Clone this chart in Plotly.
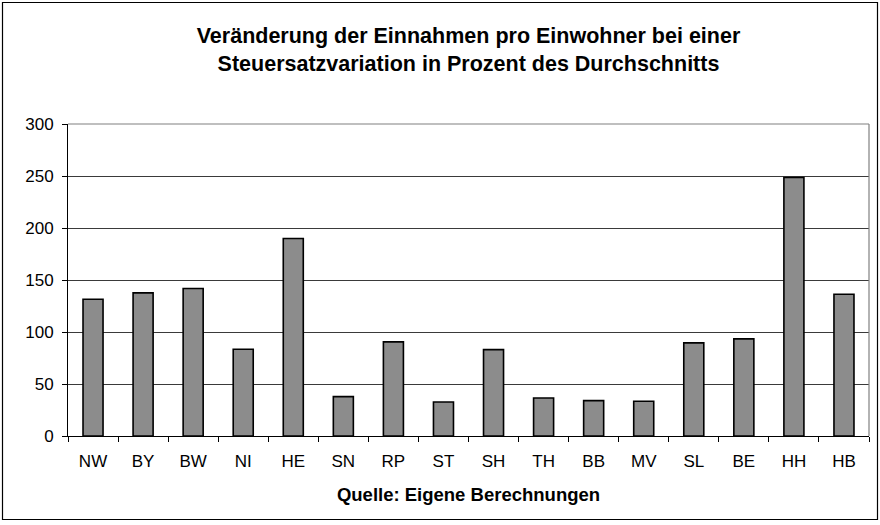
import plotly.graph_objects as go

categories = ["NW", "BY", "BW", "NI", "HE", "SN", "RP", "ST", "SH", "TH", "BB", "MV", "SL", "BE", "HH", "HB"]
values = [131.5, 137.6, 141.8, 83.4, 189.9, 37.9, 90.5, 32.7, 83.1, 36.6, 34.0, 33.4, 89.5, 93.4, 248.6, 136.3]
y_ticks = [0, 50, 100, 150, 200, 250, 300]

W, H = 880, 525
ml, mr, mt, mb = 68, 11, 124, 89
pw, ph = W - ml - mr, H - mt - mb

fig = go.Figure(go.Bar(
    x=categories, y=values,
    marker=dict(color="#8c8c8c", line=dict(color="black", width=1.6)),
    width=0.4,
))

def px_to_paper_x(px):
    return (px - ml) / pw

def px_to_paper_y(py):
    return (H - mb - py) / ph

shapes = [
    dict(type="rect", xref="paper", yref="paper",
         x0=px_to_paper_x(2.5), x1=px_to_paper_x(877.5),
         y0=px_to_paper_y(519.5), y1=px_to_paper_y(2.5),
         line=dict(color="black", width=1.2), layer="below"),
    dict(type="line", xref="paper", yref="paper", x0=0, x1=1, y0=1, y1=1,
         line=dict(color="#808080", width=1.2)),
    dict(type="line", xref="paper", yref="paper", x0=1, x1=1, y0=0, y1=1,
         line=dict(color="#808080", width=1.2)),
]

fig.update_layout(
    width=W, height=H,
    margin=dict(l=ml, r=mr, t=mt, b=mb),
    paper_bgcolor="white", plot_bgcolor="white",
    font=dict(family="Liberation Sans, Arial, sans-serif", size=17, color="black"),
    title=dict(
        text="<b>Veränderung der Einnahmen pro Einwohner bei einer<br>Steuersatzvariation in Prozent des Durchschnitts</b>",
        x=0.5, xanchor="center", xref="paper", y=1 - 43 / H, yanchor="middle", yref="container",
        font=dict(size=21.5, family="Liberation Sans, Arial, sans-serif", color="black"),
    ),
    showlegend=False,
    bargap=0.6,
    shapes=shapes,
    xaxis=dict(
        showline=True, linecolor="black", linewidth=1,
        ticks="outside", tickson="boundaries", ticklen=5, tickcolor="black",
        showgrid=False,
        tickfont=dict(size=17),
        ticklabelstandoff=10,
        title=dict(text="<b>Quelle: Eigene Berechnungen</b>", font=dict(size=18.5), standoff=17),
    ),
    yaxis=dict(
        range=[0, 300], tickvals=y_ticks,
        showline=True, linecolor="black", linewidth=1,
        ticks="outside", ticklen=5, tickcolor="black",
        showgrid=True, gridcolor="#3a3a3a", gridwidth=1,
        zeroline=False,
        tickfont=dict(size=17),
        ticklabelstandoff=5,
    ),
)

fig.write_html("out.html", config={"displayModeBar": False},
               post_script="document.body.style.margin='0';document.body.style.overflow='hidden';")
